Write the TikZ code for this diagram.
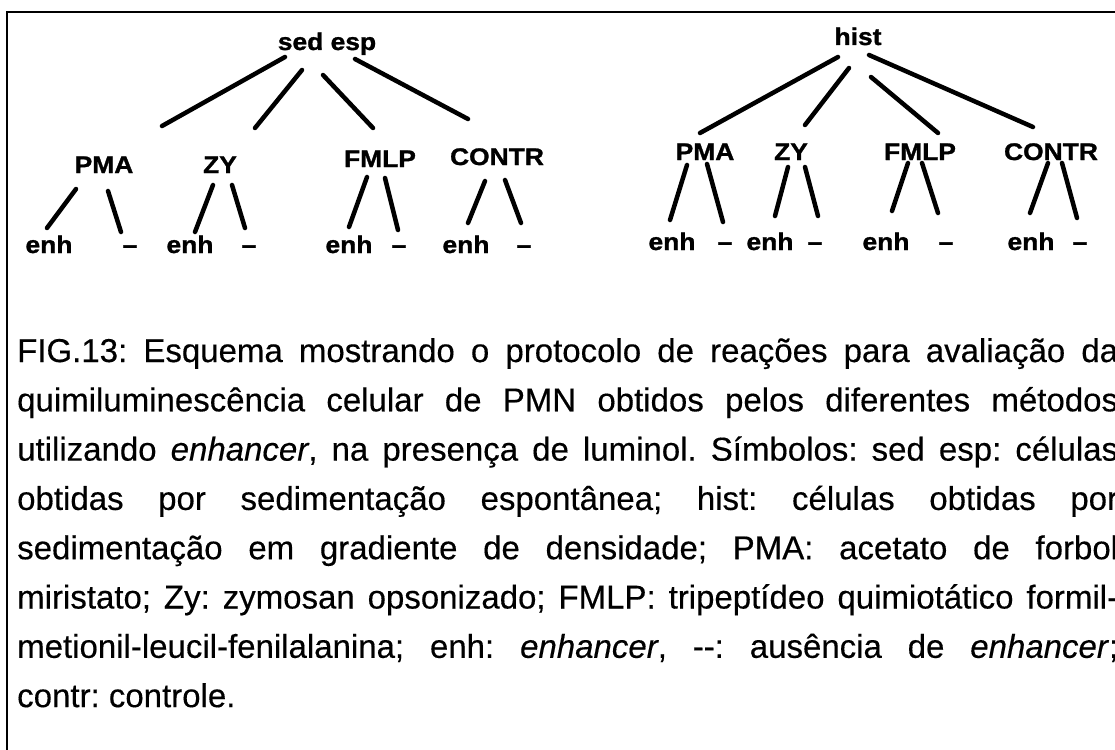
\documentclass[tikz,border=0pt]{standalone}
\usepackage{fontspec}
\setmainfont{Liberation Sans}[FakeBold=0.35]
\newfontfamily\treefont[FakeStretch=1.1,FakeBold=1.2]{Liberation Sans}
\frenchspacing
\begin{document}
\begin{tikzpicture}[x=1pt,y=-1pt,
  lbl/.style={font=\treefont\bfseries\fontsize{24}{27}\selectfont, inner sep=0pt, anchor=base},
  conn/.style={line width=4.5pt, line cap=round},
  capt/.style={font=\frenchspacing\fontsize{33}{40}\selectfont, inner sep=0pt, anchor=base west},
  framestroke/.style={line width=2.5pt}]
\useasboundingbox (0,0) rectangle (1115,749);
\fill[white] (0,0) rectangle (1115,749);
% frame
\draw[framestroke] (1120,12) -| (7,760);

% ---- tree 1
\node[lbl] (sedesp) at (327,50) {sed esp};
\node[lbl] (pma1) at (104,173) {PMA};
\node[lbl] (zy1) at (220,173) {ZY};
\node[lbl] (fmlp1) at (380,167) {FMLP};
\node[lbl] (contr1) at (497,165) {CONTR};
\node[lbl] (e1) at (49,253) {enh};
\node[lbl] (d1) at (130,253) {–};
\node[lbl] (e2) at (190,253) {enh};
\node[lbl] (d2) at (249,253) {–};
\node[lbl] (e3) at (349,253) {enh};
\node[lbl] (d3) at (399,253) {–};
\node[lbl] (e4) at (466,253) {enh};
\node[lbl] (d4) at (524,253) {–};

\draw[conn] ([shift={(-42,7)}]sedesp.base) -- ([shift={(58,-47)}]pma1.base);
\draw[conn] ([shift={(-25,20)}]sedesp.base) -- ([shift={(35,-45)}]zy1.base);
\draw[conn] ([shift={(-4,25)}]sedesp.base) -- ([shift={(-7,-39)}]fmlp1.base);
\draw[conn] ([shift={(28,9)}]sedesp.base) -- ([shift={(-29,-46)}]contr1.base);

\draw[conn] ([shift={(-28,16)}]pma1.base) -- ([shift={(-2,-25)}]e1.base);
\draw[conn] ([shift={(4,18)}]pma1.base) -- ([shift={(-9,-21)}]d1.base);
\draw[conn] ([shift={(-7,12)}]zy1.base) -- ([shift={(5,-21)}]e2.base);
\draw[conn] ([shift={(12,12)}]zy1.base) -- ([shift={(-4,-25)}]d2.base);
\draw[conn] ([shift={(-13,10)}]fmlp1.base) -- ([shift={(0,-26)}]e3.base);
\draw[conn] ([shift={(5,11)}]fmlp1.base) -- ([shift={(-1,-23)}]d3.base);
\draw[conn] ([shift={(-12,16)}]contr1.base) -- ([shift={(2,-30)}]e4.base);
\draw[conn] ([shift={(8,15)}]contr1.base) -- ([shift={(-3,-30)}]d4.base);

% ---- tree 2
\node[lbl] (hist) at (858,45) {hist};
\node[lbl] (pma2) at (705,160) {PMA};
\node[lbl] (zy2) at (791,160) {ZY};
\node[lbl] (fmlp2) at (920,160) {FMLP};
\node[lbl] (contr2) at (1051,160) {CONTR};
\node[lbl] (e5) at (672,250) {enh};
\node[lbl] (d5) at (725,250) {–};
\node[lbl] (e6) at (770,250) {enh};
\node[lbl] (d6) at (815,250) {–};
\node[lbl] (e7) at (886,250) {enh};
\node[lbl] (d7) at (946,250) {–};
\node[lbl] (e8) at (1031,250) {enh};
\node[lbl] (d8) at (1080,250) {–};

\draw[conn] ([shift={(-20,12)}]hist.base) -- ([shift={(-5,-27)}]pma2.base);
\draw[conn] ([shift={(-9,23)}]hist.base) -- ([shift={(14,-35)}]zy2.base);
\draw[conn] ([shift={(13,32)}]hist.base) -- ([shift={(18,-27)}]fmlp2.base);
\draw[conn] ([shift={(11,10)}]hist.base) -- ([shift={(-18,-33)}]contr2.base);

\draw[conn] ([shift={(-18,5)}]pma2.base) -- ([shift={(-2,-30)}]e5.base);
\draw[conn] ([shift={(2,4)}]pma2.base) -- ([shift={(-2,-28)}]d5.base);
\draw[conn] ([shift={(-3,7)}]zy2.base) -- ([shift={(5,-34)}]e6.base);
\draw[conn] ([shift={(14,7)}]zy2.base) -- ([shift={(3,-34)}]d6.base);
\draw[conn] ([shift={(-12,3)}]fmlp2.base) -- ([shift={(6,-39)}]e7.base);
\draw[conn] ([shift={(2,3)}]fmlp2.base) -- ([shift={(-8,-37)}]d7.base);
\draw[conn] ([shift={(-3,3)}]contr2.base) -- ([shift={(-1,-37)}]e8.base);
\draw[conn] ([shift={(11,3)}]contr2.base) -- ([shift={(-3,-32)}]d8.base);

% ---- caption
\node[capt] (c1) at (17,362) {\makebox[1101pt][s]{FIG.13: Esquema mostrando o protocolo de reações para avaliação da}};
\node[capt] (c2) at (17,411.3) {\makebox[1101pt][s]{quimiluminescência celular de PMN obtidos pelos diferentes métodos}};
\node[capt] (c3) at (17,460.6) {\makebox[1101pt][s]{utilizando \textit{enhancer}, na presença de luminol. Símbolos: sed esp: células}};
\node[capt] (c4) at (17,509.9) {\makebox[1101pt][s]{obtidas por sedimentação espontânea; hist: células obtidas por}};
\node[capt] (c5) at (17,559.2) {\makebox[1101pt][s]{sedimentação em gradiente de densidade; PMA: acetato de forbol}};
\node[capt] (c6) at (17,608.5) {\makebox[1101pt][s]{miristato; Zy: zymosan opsonizado; FMLP: tripeptídeo quimiotático formil-}};
\node[capt] (c7) at (17,657.8) {\makebox[1101pt][s]{metionil-leucil-fenilalanina; enh: \textit{enhancer}, -{}-: ausência de \textit{enhancer};}};
\node[capt] (c8) at (17,707.1) {contr: controle.};
\end{tikzpicture}
\end{document}
